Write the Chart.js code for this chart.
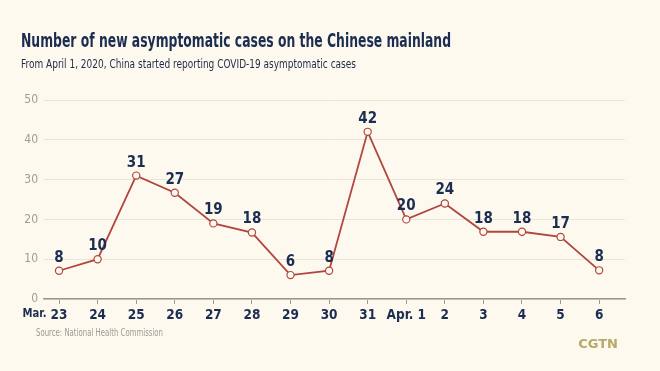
<!DOCTYPE html>
<html><head><meta charset="utf-8">
<script src="https://cdn.jsdelivr.net/npm/chart.js@4/dist/chart.umd.min.js"></script>
<style>html,body{margin:0;padding:0;background:#fdf9ef;} canvas{display:block}</style>
</head><body>
<canvas id="c" width="660" height="371"></canvas>
<script>
const titleText = "Number of new asymptomatic cases on the Chinese mainland";
const subtitleText = "From April 1, 2020, China started reporting COVID-19 asymptomatic cases";
const dayLabels = ["23","24","25","26","27","28","29","30","31","Apr. 1","2","3","4","5","6"];
const monthPrefix = "Mar.";
const plottedValues = [7.1, 10, 31, 26.7, 19, 16.7, 6, 7.1, 42, 20, 24, 16.9, 16.9, 15.6, 7.2];
const valueLabels = ["8","10","31","27","19","18","6","8","42","20","24","18","18","17","8"];
const yTicks = [0, 10, 20, 30, 40, 50];
const sourceText = "Source: National Health Commission";
const brandText = "CGTN";

const NAVY = "#1c2d52";
const LINE = "#b0463e";
const BG = "#fdf9ef";
const NUMFONT = "'DejaVu Sans Condensed', 'DejaVu Sans', sans-serif";

function drawFitted(ctx, text, x, y, width, font, color) {
  ctx.save();
  ctx.font = font;
  ctx.fillStyle = color;
  ctx.textAlign = 'left';
  ctx.textBaseline = 'middle';
  const w = ctx.measureText(text).width;
  ctx.translate(x, y);
  ctx.scale(width / w, 1);
  ctx.fillText(text, 0, 0);
  ctx.restore();
}

const bgPlugin = {
  id: 'bg',
  beforeDraw(chart) {
    const ctx = chart.ctx;
    ctx.save();
    ctx.fillStyle = BG;
    ctx.fillRect(0, 0, chart.width, chart.height);
    ctx.restore();
  }
};

const annoPlugin = {
  id: 'anno',
  afterDatasetsDraw(chart) {
    const ctx = chart.ctx;
    const meta = chart.getDatasetMeta(0);
    ctx.save();
    ctx.fillStyle = NAVY;
    ctx.font = "bold 15px " + NUMFONT;
    ctx.textAlign = 'center';
    ctx.textBaseline = 'middle';
    meta.data.forEach((pt, i) => {
      ctx.fillText(valueLabels[i], pt.x, pt.y - 13);
    });
    ctx.restore();
  },
  afterDraw(chart) {
    const ctx = chart.ctx;
    const xs = chart.scales.x;
    drawFitted(ctx, titleText, 21, 42, 430, "bold 19px " + NUMFONT, NAVY);
    drawFitted(ctx, subtitleText, 21, 64.5, 335, "12.5px " + NUMFONT, "#1f2b46");
    drawFitted(ctx, sourceText, 36, 333.5, 127, "10px " + NUMFONT, "#9d9a94");
    drawFitted(ctx, monthPrefix, 22.5, 314, 24, "bold 13px " + NUMFONT, NAVY);
    ctx.save();
    ctx.fillStyle = "#b8a86b";
    ctx.font = "bold 13px 'DejaVu Sans', sans-serif";
    ctx.textAlign = 'right';
    ctx.textBaseline = 'middle';
    ctx.fillText(brandText, 618, 345);
    ctx.restore();
  }
};

new Chart(document.getElementById('c'), {
  type: 'line',
  data: {
    datasets: [{
      data: plottedValues.map((v, i) => ({x: i, y: v})),
      borderColor: LINE,
      borderWidth: 1.8,
      pointRadius: 3.6,
      pointBorderWidth: 1.2,
      pointBackgroundColor: BG,
      pointBorderColor: LINE,
      tension: 0,
      clip: false
    }]
  },
  options: {
    responsive: false,
    devicePixelRatio: 1,
    animation: false,
    layout: { padding: { left: 21, right: 35, top: 100, bottom: 0 } },
    plugins: {
      legend: { display: false },
      tooltip: { enabled: false },
      title: { display: false },
      subtitle: { display: false }
    },
    scales: {
      x: {
        type: 'linear', min: -0.39, max: 14.67,
        afterBuildTicks: s => { s.ticks = dayLabels.map((_, i) => ({ value: i })); },
        afterFit: s => { s.height = 72; },
        ticks: {
          autoSkip: false, maxRotation: 0, padding: 3, color: NAVY,
          font: { family: NUMFONT, size: 13.5, weight: 'bold' },
          callback: v => dayLabels[v]
        },
        grid: { display: true, drawOnChartArea: false, drawTicks: true, tickLength: 5, color: "#9b9893", lineWidth: 1 },
        border: { display: true, color: "#9b9893", width: 1.5 }
      },
      y: {
        min: 0, max: 50,
        afterBuildTicks: s => { s.ticks = yTicks.map(v => ({ value: v })); },
        afterFit: s => { s.width = 23; },
        ticks: { padding: 6, color: "#9f9c96", font: { family: NUMFONT, size: 12 } },
        grid: { color: "#ebe6da", lineWidth: 1, drawTicks: false },
        border: { display: false }
      }
    }
  },
  plugins: [bgPlugin, annoPlugin]
});
</script>
</body></html>
